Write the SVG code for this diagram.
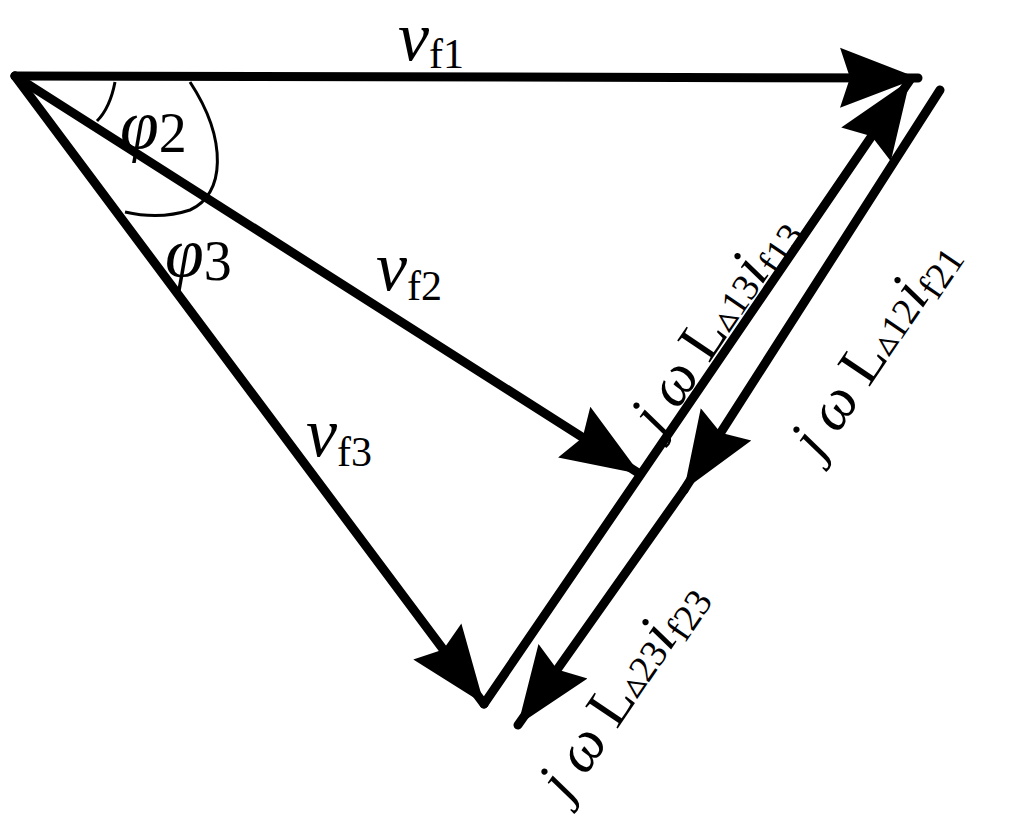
<svg xmlns="http://www.w3.org/2000/svg" width="1010" height="822" viewBox="0 0 1010 822">
<style>
.v{stroke:#000;stroke-width:9;fill:none;stroke-linecap:round}
.a{stroke:#000;stroke-width:3;fill:none}
text{font-family:"Liberation Serif","Times New Roman",serif;fill:#000}
.big{font-size:70px}
.lab{font-size:60px}
.it{font-style:italic}
.s{font-size:38px}
</style>
<defs>
<marker id="ah" markerUnits="userSpaceOnUse" markerWidth="80" markerHeight="64" refX="78" refY="32" orient="auto" viewBox="0 0 80 64">
<path d="M0,2 L78,32 L0,62 L10,32 Z" fill="#000"/>
</marker>
</defs>
<rect width="1010" height="822" fill="#fff"/>
<g id="connectors">
<line class="v" x1="15" y1="76" x2="918" y2="78" marker-end="url(#ah)"/>
<line class="v" x1="15" y1="76" x2="640" y2="474" marker-end="url(#ah)"/>
<line class="v" x1="15" y1="76" x2="484" y2="704" marker-end="url(#ah)"/>
<line class="v" x1="484" y1="704" x2="910" y2="80" marker-end="url(#ah)"/>
<line class="v" x1="940" y1="90" x2="684" y2="490" marker-end="url(#ah)"/>
<line class="v" x1="684" y1="490" x2="518" y2="725" marker-end="url(#ah)"/>
<path class="a" d="M115,82 Q110,108 97,121"/>
<path class="a" d="M190,82 C228,140 225,195 190,210 Q160,220 125,212"/>
</g>
<g id="labels">
<text class="big" x="398" y="60"><tspan class="it">v</tspan><tspan font-size="42" dy="8">f1</tspan></text>
<text class="big it" x="120" y="148">φ<tspan font-size="56" font-style="normal" dy="4">2</tspan></text>
<text class="big it" x="165" y="276">φ<tspan font-size="56" font-style="normal" dy="4">3</tspan></text>
<text class="big" x="376" y="290"><tspan class="it">v</tspan><tspan font-size="42" dy="10">f2</tspan></text>
<text class="big" x="306" y="456"><tspan class="it">v</tspan><tspan font-size="42" dy="10">f3</tspan></text>
<text class="lab" transform="translate(660,436) rotate(-55.9)"><tspan class="it">j</tspan><tspan class="it" dx="14">ω</tspan><tspan dx="14">L</tspan><tspan class="s" font-family="DejaVu Sans,sans-serif">▵</tspan><tspan class="s">13</tspan><tspan class="it">i</tspan><tspan class="s" dy="8">f13</tspan></text>
<text class="lab" transform="translate(820,460) rotate(-55.9)"><tspan class="it">j</tspan><tspan class="it" dx="14">ω</tspan><tspan dx="14">L</tspan><tspan class="s" font-family="DejaVu Sans,sans-serif">▵</tspan><tspan class="s">12</tspan><tspan class="it">i</tspan><tspan class="s" dy="8">f21</tspan></text>
<text class="lab" transform="translate(568,802) rotate(-55.9)"><tspan class="it">j</tspan><tspan class="it" dx="14">ω</tspan><tspan dx="14">L</tspan><tspan class="s" font-family="DejaVu Sans,sans-serif">▵</tspan><tspan class="s">23</tspan><tspan class="it">i</tspan><tspan class="s" dy="8">f23</tspan></text>
</g>
</svg>
